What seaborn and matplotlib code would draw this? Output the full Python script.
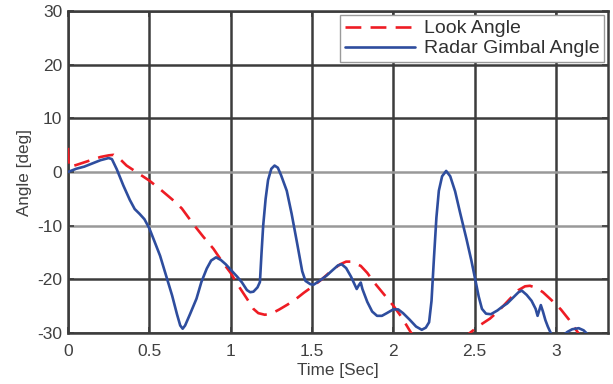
import matplotlib
matplotlib.use("Agg")
import matplotlib.pyplot as plt
import seaborn as sns
import pandas as pd
import numpy as np

# Radar Gimbal Angle (time [s], angle [deg])
gimbal_t = [0.00, 0.05, 0.10, 0.15, 0.20, 0.25, 0.27, 0.30, 0.34, 0.38, 0.41, 0.44, 0.47, 0.50,
            0.53, 0.566, 0.60, 0.64, 0.67, 0.69, 0.705, 0.72, 0.75, 0.79, 0.82, 0.853, 0.88, 0.91,
            0.94, 0.97, 1.00, 1.04, 1.07, 1.10, 1.12, 1.14, 1.165, 1.18, 1.19, 1.20, 1.215, 1.23,
            1.25, 1.27, 1.29, 1.31, 1.345, 1.375, 1.41, 1.44, 1.46, 1.49, 1.51, 1.55, 1.59, 1.63,
            1.66, 1.683, 1.71, 1.74, 1.775, 1.79, 1.80, 1.81, 1.84, 1.87, 1.90, 1.93, 1.96, 2.00,
            2.03, 2.06, 2.10, 2.14, 2.175, 2.20, 2.22, 2.235, 2.25, 2.265, 2.28, 2.30, 2.325, 2.35,
            2.38, 2.41, 2.45, 2.48, 2.503, 2.525, 2.545, 2.57, 2.60, 2.64, 2.67, 2.70, 2.74, 2.77,
            2.79, 2.82, 2.85, 2.875, 2.887, 2.897, 2.907, 2.92, 2.935, 2.95, 2.968, 2.99, 3.02,
            3.05, 3.07, 3.10, 3.14, 3.17, 3.19]
gimbal_y = [0.0, 0.6, 1.0, 1.6, 2.2, 2.6, 2.4, 0.5, -2.5, -5.2, -6.9, -7.8, -8.8, -10.5,
            -12.8, -15.6, -19.0, -23.0, -26.5, -28.6, -29.2, -28.6, -26.5, -23.6, -20.5, -18.0, -16.5, -15.9,
            -16.4, -17.2, -18.2, -19.5, -20.6, -22.0, -22.4, -22.3, -21.5, -20.5, -15.0, -10.0, -5.0, -1.5,
            0.6, 1.2, 0.8, -0.6, -3.5, -7.8, -13.5, -18.5, -20.3, -20.9, -21.0, -20.2, -19.3, -18.2,
            -17.4, -17.2, -17.9, -19.5, -21.8, -21.0, -20.6, -21.8, -24.2, -26.0, -26.8, -26.8, -26.3, -25.6,
            -25.6, -26.3, -27.5, -28.8, -29.4, -29.0, -28.0, -24.0, -16.0, -8.5, -3.5, -0.8, 0.2, -0.8,
            -3.6, -7.5, -12.5, -16.5, -19.9, -23.2, -25.5, -26.4, -26.5, -25.8, -25.1, -24.5, -23.3, -22.4,
            -22.1, -22.9, -24.0, -25.5, -26.8, -25.8, -24.8, -26.0, -27.6, -28.8, -30.0, -31.2, -31.0,
            -30.3, -29.8, -29.3, -29.1, -29.5, -30.1]

# Look Angle (time [s], angle [deg])
look_t = [0.000, 0.005, 0.05, 0.10, 0.15, 0.20, 0.25, 0.28, 0.32, 0.36, 0.42, 0.50, 0.57, 0.648,
          0.70, 0.77, 0.83, 0.894, 0.95, 1.00, 1.05, 1.10, 1.14, 1.17, 1.21, 1.25, 1.30, 1.35,
          1.40, 1.45, 1.51, 1.56, 1.62, 1.673, 1.71, 1.74, 1.77, 1.80, 1.84, 1.88, 1.94, 2.00,
          2.05, 2.11, 2.17, 2.25, 2.33, 2.41, 2.47, 2.53, 2.595, 2.65, 2.718, 2.77, 2.81, 2.84,
          2.88, 2.92, 2.97, 3.03, 3.08, 3.128, 3.16, 3.20]
look_y = [4.5, 0.9, 1.3, 1.8, 2.3, 2.8, 3.1, 3.2, 2.4, 1.2, 0.0, -1.6, -3.3, -5.3,
          -6.8, -9.7, -12.0, -14.3, -16.8, -18.8, -21.3, -23.6, -25.5, -26.3, -26.6, -26.4, -25.6, -24.7,
          -23.7, -22.5, -21.2, -20.0, -18.4, -17.2, -16.7, -16.7, -17.1, -17.5, -18.8, -20.5, -22.7, -24.9,
          -27.0, -30.0, -32.5, -33.8, -33.6, -32.2, -30.0, -28.6, -27.3, -25.8, -23.6, -22.0, -21.3, -21.2,
          -21.6, -22.4, -23.8, -25.6, -27.5, -29.6, -31.0, -32.5]

x_ticks = [0, 0.5, 1, 1.5, 2, 2.5, 3]
x_tick_labels = ["0", "0.5", "1", "1.5", "2", "2.5", "3"]
y_ticks = [-30, -20, -10, 0, 10, 20, 30]
y_tick_labels = ["-30", "-20", "-10", "0", "10", "20", "30"]

sns.set_theme(style="white")
plt.rcParams['font.family'] = ['Liberation Sans', 'DejaVu Sans']

fig = plt.figure(figsize=(6.13, 3.84), dpi=100)
ax = fig.add_axes([68/613, 1-333/384, (608-68)/613, (333-11)/384])

text_c = "#404040"
grid_c = "#3c3c3c"

df_look = pd.DataFrame({"t": look_t, "y": look_y})
df_gimbal = pd.DataFrame({"t": gimbal_t, "y": gimbal_y})

sns.lineplot(data=df_look, x="t", y="y", ax=ax, color="#ee1c24", lw=1.9,
             sort=False, estimator=None, label="Look Angle", zorder=3)
ax.lines[-1].set_dashes([6, 3.5])
sns.lineplot(data=df_gimbal, x="t", y="y", ax=ax, color="#2e4d9e", lw=1.9,
             sort=False, estimator=None, label="Radar Gimbal Angle", zorder=4)

ax.set_xlim(0, 3.32)
ax.set_ylim(-30, 30)
ax.set_xticks(x_ticks)
ax.set_xticklabels(x_tick_labels)
ax.set_yticks(y_ticks)
ax.set_yticklabels(y_tick_labels)

ax.grid(True, color=grid_c, lw=1.8)
for loc, gl in zip(ax.get_yticks(), ax.yaxis.get_gridlines()):
    if loc in (0, -10):
        gl.set_color("#999999")
ax.set_axisbelow(True)

for s in ax.spines.values():
    s.set_color(grid_c)
    s.set_linewidth(1.8)

ax.tick_params(direction="in", length=4, width=1.2, color=grid_c,
               labelsize=12.5, labelcolor=text_c, top=True, right=True,
               bottom=True, left=True)
ax.tick_params(axis="x", pad=8)
ax.tick_params(axis="y", pad=4)

ax.set_xlabel("Time [Sec]", fontsize=12.3, color=text_c, labelpad=3)
ax.set_ylabel("Angle [deg]", fontsize=12.3, color=text_c, labelpad=4)

leg = ax.legend(loc="upper right", fontsize=14, frameon=True, fancybox=False,
                handlelength=3.6, handletextpad=0.45, borderpad=0.25,
                labelspacing=0.12, borderaxespad=0.2, framealpha=1)
leg.get_frame().set_edgecolor("#9a9a9a")
leg.get_frame().set_linewidth(1.0)
for t in leg.get_texts():
    t.set_color("#303030")
leg.set_zorder(10)

fig.savefig("out.png", dpi=100, facecolor="white")
